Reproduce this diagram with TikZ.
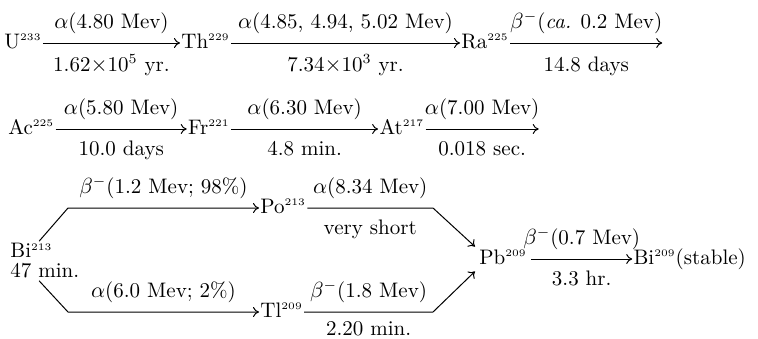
\documentclass[tikz,border=0pt]{standalone}
\usetikzlibrary{arrows.meta,positioning}
\newcommand{\mass}[1]{$^{\scriptscriptstyle #1}$}
\tikzset{
  nuclide/.style={inner sep=0.5pt, text height=1.6ex, text depth=0.25ex, anchor=west},
  parent/.style={inner sep=1pt, align=left, anchor=west},
  decay/.style={-{To[length=3pt,width=5pt]}, line width=0.5pt},
  decaymode/.style={anchor=base, yshift=7.5pt, inner sep=0pt},
  halflife/.style={anchor=base, yshift=-13pt, inner sep=0pt}
}

\begin{document}
\begin{tikzpicture}[x=0.5pt, y=-0.5pt, font=\fontsize{10.5}{10}\selectfont]
    \useasboundingbox (0,0) rectangle (758,338);
    % U-233 chain
    \node[nuclide] (u233) at (3,43) {U\mass{233}};
    \node[nuclide, right=68.5pt of u233] (th229) {Th\mass{229}};
    \node[nuclide, right=114.5pt of th229] (ra225) {Ra\mass{225}};
    \coordinate[right=76pt of ra225] (raend);
    \draw[decay] (u233) -- node[decaymode]{$\alpha$(4.80 Mev)} node[halflife, yshift=-1pt]{1.62$\times$10$^5$ yr.} (th229);
    \draw[decay] (th229) -- node[decaymode]{$\alpha$(4.85, 4.94, 5.02 Mev)} node[halflife, yshift=-1pt]{7.34$\times$10$^3$ yr.} (ra225);
    \draw[decay] (ra225) -- node[decaymode]{$\beta^-$(\textit{ca.} 0.2 Mev)} node[halflife, yshift=-1pt]{14.8 days} (raend);
    % Ac-225 chain
    \node[nuclide] (ac225) at (7,129) {Ac\mass{225}};
    \node[nuclide, right=65.5pt of ac225] (fr221) {Fr\mass{221}};
    \node[nuclide, right=73.5pt of fr221] (at217) {At\mass{217}};
    \coordinate[right=56.5pt of at217] (atend);
    \draw[decay] (ac225) -- node[decaymode]{$\alpha$(5.80 Mev)} node[halflife]{10.0 days} (fr221);
    \draw[decay] (fr221) -- node[decaymode]{$\alpha$(6.30 Mev)} node[halflife]{4.8 min.} (at217);
    \draw[decay] (at217) -- node[decaymode]{$\alpha$(7.00 Mev)} node[halflife]{0.018 sec.} (atend);
    % Bi-213 branching
    \node[parent] (bi213) at (8,261) {Bi\mass{213}\\47 min.};
    \node[nuclide] (po213) at (259,208) {Po\mass{213}};
    \node[nuclide] (tl209) at (259,312) {Tl\mass{209}};
    \node[nuclide, inner sep=2pt] (pb209) at (475,259) {Pb\mass{209}};
    \node[nuclide, right=50.5pt of pb209] (bi209) {Bi\mass{209}(stable)};
    \coordinate (upbend) at (68,208);
    \coordinate (lowbend) at (68,312);
    \coordinate (pobend) at (433,208);
    \coordinate (tlbend) at (433,312);
    \draw[decay] (bi213.106) -- (upbend) -- node[decaymode]{$\beta^-$(1.2 Mev; 98\%)} (po213);
    \draw[decay] (bi213.254) -- (lowbend) -- node[decaymode]{$\alpha$(6.0 Mev; 2\%)} (tl209);
    \draw[decay] (po213) -- node[decaymode]{$\alpha$(8.34 Mev)} node[halflife]{very short} (pobend) -- (pb209.north west);
    \draw[decay] (tl209) -- node[decaymode]{$\beta^-$(1.8 Mev)} node[halflife, yshift=1.5pt]{2.20 min.} (tlbend) -- (pb209.south west);
    \draw[decay] (pb209) -- node[decaymode]{$\beta^-$(0.7 Mev)} node[halflife]{3.3 hr.} (bi209);
\end{tikzpicture}
\end{document}
